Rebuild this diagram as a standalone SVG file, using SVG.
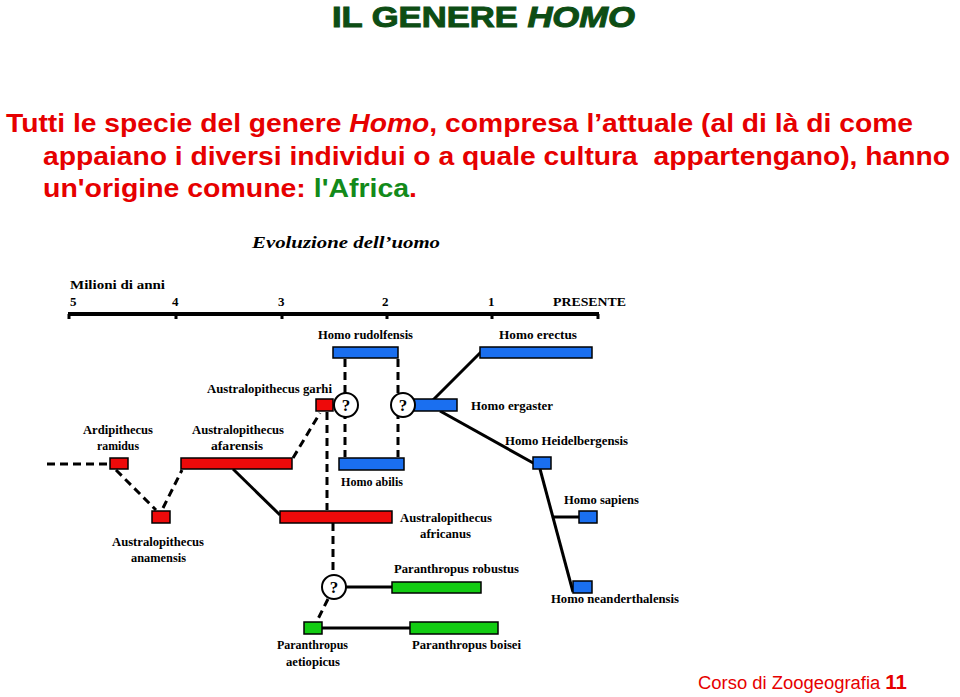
<svg xmlns="http://www.w3.org/2000/svg" width="960" height="697" viewBox="0 0 960 697">
<style>
.hd{font-family:"Liberation Sans",Arial,sans-serif;font-weight:bold;font-size:25px;fill:#e60000}
.lb{font-family:"Liberation Serif","Times New Roman",serif;font-weight:bold;font-size:12px;fill:#000}
.num{font-family:"Liberation Serif","Times New Roman",serif;font-weight:bold;font-size:13px;fill:#000}
.r{fill:#ee0a0a;stroke:#000;stroke-width:1.5}
.b{fill:#1a6ff0;stroke:#000;stroke-width:1.5}
.g{fill:#12cc12;stroke:#000;stroke-width:1.5}
.q circle{fill:#fff;stroke:#000;stroke-width:2}
.q text{font-family:"Liberation Serif","Times New Roman",serif;font-weight:bold;font-size:17px;fill:#000;text-anchor:middle}
.sl{stroke:#000;stroke-width:3;fill:none}
.dl{stroke:#000;stroke-width:3;fill:none;stroke-dasharray:8 5}
</style>
<rect width="960" height="697" fill="#fff"/>
<text x="332" y="27" font-family="'Liberation Sans',Arial,sans-serif" font-weight="bold" font-size="29" fill="#0d4d14" stroke="#0d4d14" stroke-width="1" textLength="303" lengthAdjust="spacingAndGlyphs">IL GENERE <tspan font-style="italic">HOMO</tspan></text>
<text class="hd" x="6" y="132" textLength="907" lengthAdjust="spacingAndGlyphs">Tutti le specie del genere <tspan font-style="italic">Homo</tspan>, compresa l’attuale (al di là di come</text>
<text class="hd" x="43" y="165" textLength="907" lengthAdjust="spacingAndGlyphs">appaiano i diversi individui o a quale cultura &#160;appartengano), hanno</text>
<text class="hd" x="43" y="197" textLength="374" lengthAdjust="spacingAndGlyphs">un'origine comune: <tspan fill="#138a1a">l'Africa</tspan>.</text>
<text x="252" y="248" font-family="'Liberation Serif','Times New Roman',serif" font-weight="bold" font-style="italic" font-size="17" textLength="188" lengthAdjust="spacingAndGlyphs">Evoluzione dell’uomo</text>
<g id="axis">
<text class="lb" x="70" y="289" textLength="95" lengthAdjust="spacingAndGlyphs">Milioni di anni</text>
<text class="num" x="70" y="306">5</text>
<text class="num" x="172" y="306">4</text>
<text class="num" x="278" y="306">3</text>
<text class="num" x="382" y="306">2</text>
<text class="num" x="488" y="306">1</text>
<text class="num" x="553" y="306" textLength="73" lengthAdjust="spacingAndGlyphs">PRESENTE</text>
<line x1="68" y1="314" x2="599" y2="314" stroke="#000" stroke-width="4"/>
<path d="M69 314v5M176 314v5M282 314v5M387 314v5M492 314v5M598 314v5" stroke="#000" stroke-width="3"/>
</g>
<g id="connectors">
<line class="dl" x1="47" y1="464" x2="110" y2="464"/>
<line class="dl" x1="116" y1="470" x2="156" y2="510"/>
<line class="dl" x1="163" y1="508" x2="182" y2="470"/>
<line class="dl" x1="293" y1="458" x2="320" y2="413"/>
<line class="sl" x1="233" y1="469" x2="280" y2="515"/>
<line class="dl" x1="327" y1="412" x2="327" y2="510"/>
<line class="dl" x1="333" y1="523" x2="333" y2="574"/>
<line class="dl" x1="345" y1="359" x2="345" y2="457"/>
<line class="dl" x1="398" y1="359" x2="398" y2="457"/>
<line class="sl" x1="433" y1="400" x2="481" y2="352"/>
<line class="sl" x1="440" y1="411" x2="535" y2="464"/>
<line class="sl" x1="540" y1="469" x2="573" y2="592"/>
<line class="sl" x1="552" y1="517" x2="579" y2="517"/>
<line class="sl" x1="345" y1="587" x2="392" y2="587"/>
<line class="dl" x1="328" y1="599" x2="317" y2="621"/>
<line class="sl" x1="322" y1="628" x2="410" y2="628"/>
</g>
<g id="ardipithecus-ramidus">
<rect class="r" x="110" y="458" width="18" height="11"/>
<text class="lb" x="83" y="434" textLength="70" lengthAdjust="spacingAndGlyphs">Ardipithecus</text>
<text class="lb" x="97" y="450" textLength="42" lengthAdjust="spacingAndGlyphs">ramidus</text>
</g>
<g id="australopithecus-anamensis">
<rect class="r" x="152" y="511" width="18" height="12"/>
<text class="lb" x="112" y="546" textLength="92" lengthAdjust="spacingAndGlyphs">Australopithecus</text>
<text class="lb" x="131" y="562" textLength="55" lengthAdjust="spacingAndGlyphs">anamensis</text>
</g>
<g id="australopithecus-afarensis">
<rect class="r" x="181" y="458" width="111" height="11"/>
<text class="lb" x="192" y="434" textLength="92" lengthAdjust="spacingAndGlyphs">Australopithecus</text>
<text class="lb" x="211" y="450" textLength="52" lengthAdjust="spacingAndGlyphs">afarensis</text>
</g>
<g id="australopithecus-garhi">
<rect class="r" x="316" y="399" width="17" height="12"/>
<text class="lb" x="207" y="393" textLength="125" lengthAdjust="spacingAndGlyphs">Australopithecus garhi</text>
</g>
<g id="australopithecus-africanus">
<rect class="r" x="280" y="511" width="112" height="12"/>
<text class="lb" x="400" y="522" textLength="92" lengthAdjust="spacingAndGlyphs">Australopithecus</text>
<text class="lb" x="420" y="538" textLength="51" lengthAdjust="spacingAndGlyphs">africanus</text>
</g>
<g id="homo-rudolfensis">
<rect class="b" x="333" y="347" width="65" height="11"/>
<text class="lb" x="318" y="339" textLength="95" lengthAdjust="spacingAndGlyphs">Homo rudolfensis</text>
</g>
<g id="homo-abilis">
<rect class="b" x="339" y="458" width="65" height="12"/>
<text class="lb" x="341" y="486" textLength="62" lengthAdjust="spacingAndGlyphs">Homo abilis</text>
</g>
<g id="homo-erectus">
<rect class="b" x="480" y="347" width="112" height="11"/>
<text class="lb" x="499" y="339" textLength="78" lengthAdjust="spacingAndGlyphs">Homo erectus</text>
</g>
<g id="homo-ergaster">
<rect class="b" x="414" y="399" width="43" height="12"/>
<text class="lb" x="471" y="410" textLength="82" lengthAdjust="spacingAndGlyphs">Homo ergaster</text>
</g>
<g id="homo-heidelbergensis">
<rect class="b" x="533" y="457" width="18" height="12"/>
<text class="lb" x="505" y="445" textLength="123" lengthAdjust="spacingAndGlyphs">Homo Heidelbergensis</text>
</g>
<g id="homo-sapiens">
<rect class="b" x="579" y="511" width="18" height="12"/>
<text class="lb" x="564" y="504" textLength="75" lengthAdjust="spacingAndGlyphs">Homo sapiens</text>
</g>
<g id="homo-neanderthalensis">
<rect class="b" x="573" y="581" width="19" height="12"/>
<text class="lb" x="551" y="603" textLength="128" lengthAdjust="spacingAndGlyphs">Homo neanderthalensis</text>
</g>
<g id="paranthropus-robustus">
<rect class="g" x="392" y="582" width="89" height="11"/>
<text class="lb" x="394" y="573" textLength="125" lengthAdjust="spacingAndGlyphs">Paranthropus robustus</text>
</g>
<g id="paranthropus-aetiopicus">
<rect class="g" x="304" y="622" width="18" height="12"/>
<text class="lb" x="277" y="649" textLength="71" lengthAdjust="spacingAndGlyphs">Paranthropus</text>
<text class="lb" x="286" y="666" textLength="54" lengthAdjust="spacingAndGlyphs">aetiopicus</text>
</g>
<g id="paranthropus-boisei">
<rect class="g" x="410" y="622" width="88" height="12"/>
<text class="lb" x="412" y="649" textLength="109" lengthAdjust="spacingAndGlyphs">Paranthropus boisei</text>
</g>
<g id="q1" class="q"><circle cx="346" cy="405" r="12"/><text x="346" y="411">?</text></g>
<g id="q2" class="q"><circle cx="403" cy="405" r="12"/><text x="403" y="411">?</text></g>
<g id="q3" class="q"><circle cx="334" cy="587" r="12"/><text x="334" y="593">?</text></g>
<text x="698" y="689" font-family="'Liberation Sans',Arial,sans-serif" font-size="18" fill="#e60000" textLength="209" lengthAdjust="spacingAndGlyphs">Corso di Zoogeografia <tspan font-weight="bold" font-size="20">11</tspan></text>
</svg>
